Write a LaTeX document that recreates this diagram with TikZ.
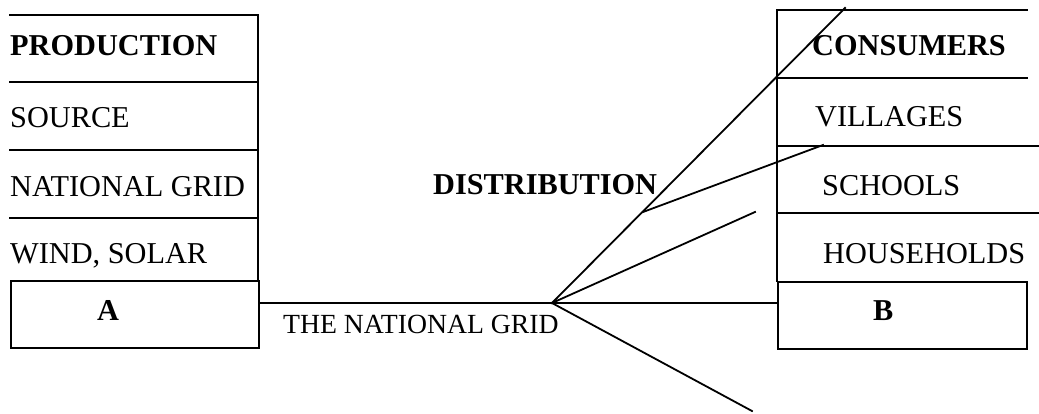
\documentclass[tikz,border=0pt]{standalone}
\usepackage{fontspec}
\setmainfont{Liberation Serif}
\begin{document}
\begin{tikzpicture}[x=1pt,y=-1pt,
  ln/.style={line width=1.8pt, line cap=rect},
  lbl/.style={anchor=base west, inner sep=0pt, font=\fontsize{30.3}{32}\selectfont},
  blbl/.style={lbl, font=\fontsize{30.3}{32}\selectfont\bfseries},
  box/.style={draw, line width=1.8pt, inner sep=0pt, anchor=north west}]
\useasboundingbox (0,0) rectangle (1039,413);
% left table
\draw[ln] (10,15) -- (258,15) -- (258,280);
\draw[ln] (10,82) -- (258,82);
\draw[ln] (10,150) -- (258,150);
\draw[ln] (10,218) -- (258,218);
\node[box, minimum width=248pt, minimum height=67pt] (A) at (10,280) {};
\node[blbl] (prod) at (10,55) {PRODUCTION};
\node[lbl] (src) at (10,127) {SOURCE};
\node[lbl] (ng) at (10,196) {NATIONAL GRID};
\node[lbl] (ws) at (10,263) {WIND, SOLAR};
\node[blbl] (Alab) at (97,320) {A};
% right table
\draw[ln] (1027,10) -- (777,10) -- (777,281);
\draw[ln] (777,78) -- (1027,78);
\draw[ln] (777,146) -- (1039,146);
\draw[ln] (777,213) -- (1039,213);
\node[box, minimum width=249pt, minimum height=67pt] (B) at (777,281) {};
\node[blbl] (cons) at (812,55) {CONSUMERS};
\node[lbl] (vil) at (815,126) {VILLAGES};
\node[lbl] (sch) at (822,195) {SCHOOLS};
\node[lbl] (hh) at (823,263) {HOUSEHOLDS};
\node[blbl] (Blab) at (873,320) {B};
% distribution
\coordinate (hub) at (552,303);
\coordinate (e1) at (845,8);
\coordinate (br) at (643,212);
\coordinate (e2) at (823,145);
\coordinate (e3) at (755,212);
\coordinate (e4) at (752,411);
\draw[ln] (A.east |- hub) -- (hub) -- (B.west |- hub);
\draw[ln] (hub) -- (e1);
\draw[ln] (br) -- (e2);
\draw[ln] (hub) -- (e3);
\draw[ln] (hub) -- (e4);
\node[blbl] (dist) at (433,194) {DISTRIBUTION};
\node[lbl, font=\fontsize{27.7}{30}\selectfont] (tng) at (283,333) {THE NATIONAL GRID};
\end{tikzpicture}
\end{document}
